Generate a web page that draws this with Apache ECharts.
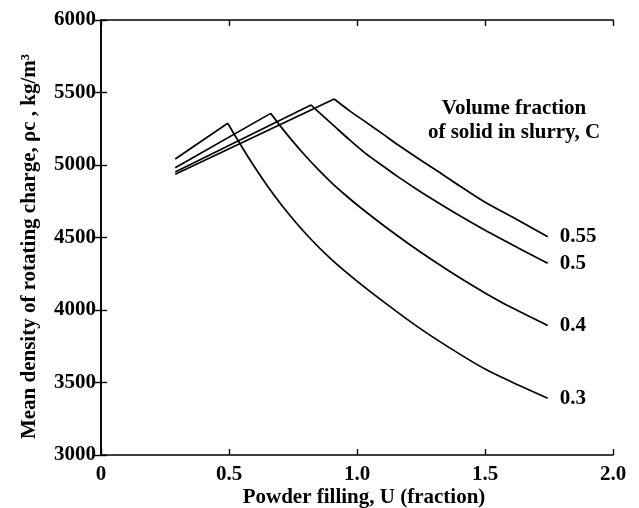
<!DOCTYPE html>
<html>
<head>
<meta charset="utf-8">
<title>Mean density of rotating charge</title>
<script src="https://cdn.jsdelivr.net/npm/echarts@6/dist/echarts.min.js"></script>
<style>
    html, body { margin: 0; padding: 0; background: #fff; }
    #main { width: 639px; height: 508px; }
</style>
</head>
<body>
<div id="main"></div>
<script>
// 体积分数 C
var fractions = ['0.3', '0.4', '0.5', '0.55'];

// 上升段 (U, rho)
var riseU = {
    '0.3': [0.29, 0.495],
    '0.4': [0.29, 0.663],
    '0.5': [0.29, 0.82],
    '0.55': [0.29, 0.911]
};
var riseRho = {
    '0.3': [5041, 5288],
    '0.4': [4981, 5356],
    '0.5': [4952, 5414],
    '0.55': [4936, 5455]
};

// 下降段 (U, rho)
var fallU = {
    '0.3': [0.495, 0.55, 0.6, 0.65, 0.72, 0.81, 0.9, 1.0, 1.12, 1.24, 1.37, 1.5, 1.63, 1.745],
    '0.4': [0.663, 0.7, 0.75, 0.8, 0.85, 0.9, 0.95, 1.0, 1.1, 1.2, 1.3, 1.4, 1.5, 1.6, 1.745],
    '0.5': [0.82, 0.87, 0.92, 0.97, 1.032, 1.1, 1.161, 1.239, 1.317, 1.4, 1.499, 1.628, 1.745],
    '0.55': [0.911, 0.97, 1.032, 1.1, 1.161, 1.239, 1.317, 1.4, 1.499, 1.628, 1.745]
};
var fallRho = {
    '0.3': [5288, 5126, 4986, 4856, 4692, 4507, 4349, 4199, 4035, 3880, 3730, 3593, 3483, 3392],
    '0.4': [5356, 5270, 5161, 5060, 4966, 4879, 4800, 4726, 4588, 4459, 4338, 4224, 4118, 4020, 3893],
    '0.5': [5414, 5334, 5254, 5175, 5082, 4995, 4918, 4826, 4740, 4652, 4552, 4430, 4322],
    '0.55': [5455, 5375, 5299, 5215, 5138, 5045, 4955, 4857, 4745, 4621, 4505]
};

// 刻度
var xTicks = [0, 0.5, 1.0, 1.5, 2.0];
var yTicks = [3000, 3500, 4000, 4500, 5000, 5500, 6000];

var serif = 'Liberation Serif';
var myChart = echarts.init(document.getElementById('main'));

function pairs(us, vs) {
    return us.map(function (u, i) { return [u, vs[i]]; });
}

function buildSeries() {
    var list = [];
    fractions.forEach(function (c) {
        list.push({
            name: c + '-rise',
            type: 'line',
            data: pairs(riseU[c], riseRho[c]),
            showSymbol: false,
            silent: true,
            lineStyle: { color: '#000', width: 1.7 }
        });
        list.push({
            name: c,
            type: 'line',
            data: pairs(fallU[c], fallRho[c]),
            smooth: 0.3,
            showSymbol: false,
            silent: true,
            lineStyle: { color: '#000', width: 1.7 },
            endLabel: {
                show: true,
                formatter: c,
                distance: 12,
                color: '#000',
                fontFamily: serif,
                fontWeight: 'bold',
                fontSize: 21
            }
        });
    });
    return list;
}

var axisLine = { show: true, lineStyle: { color: '#000', width: 1.6 } };
var axisTick = { show: true, inside: true, length: 6, lineStyle: { color: '#000', width: 1.4 } };

var option = {
    animation: false,
    backgroundColor: '#fff',
    grid: { left: 101, right: 26, top: 20, bottom: 53, outerBoundsMode: 'none', containLabel: false },
    xAxis: [{
        type: 'value',
        min: xTicks[0],
        max: xTicks[xTicks.length - 1],
        interval: 0.5,
        position: 'bottom',
        axisLine: axisLine,
        axisTick: axisTick,
        splitLine: { show: false },
        axisLabel: {
            margin: 9,
            color: '#000',
            fontFamily: serif,
            fontWeight: 'bold',
            fontSize: 21,
            formatter: function (v) { return v === 0 ? '0' : v.toFixed(1); }
        },
        name: 'Powder filling, U (fraction)',
        nameLocation: 'middle',
        nameGap: 32,
        nameMoveOverlap: false,
        nameTextStyle: {
            color: '#000', fontFamily: serif, fontWeight: 'bold', fontSize: 21,
            padding: [0, 0, 0, 14]
        }
    }, {
        type: 'value',
        min: xTicks[0],
        max: xTicks[xTicks.length - 1],
        interval: 0.5,
        position: 'top',
        axisLine: axisLine,
        axisTick: axisTick,
        axisLabel: { show: false },
        splitLine: { show: false }
    }],
    yAxis: [{
        type: 'value',
        min: yTicks[0],
        max: yTicks[yTicks.length - 1],
        interval: 500,
        position: 'left',
        axisLine: axisLine,
        axisTick: axisTick,
        splitLine: { show: false },
        axisLabel: {
            margin: 5,
            color: '#000',
            fontFamily: serif,
            fontWeight: 'bold',
            fontSize: 21,
            formatter: function (v) { return String(v); }
        },
        name: 'Mean density of rotating charge, ρc , kg/m³',
        nameLocation: 'middle',
        nameGap: 61,
        nameMoveOverlap: false,
        nameTextStyle: {
            color: '#000', fontFamily: serif, fontWeight: 'bold', fontSize: 21,
            padding: [0, 18, 0, 0]
        }
    }, {
        type: 'value',
        min: yTicks[0],
        max: yTicks[yTicks.length - 1],
        interval: 500,
        position: 'right',
        axisLine: axisLine,
        axisTick: axisTick,
        axisLabel: { show: false },
        splitLine: { show: false }
    }],
    graphic: [{
        type: 'text',
        x: 514,
        y: 97,
        style: {
            text: 'Volume fraction\nof solid in slurry, C',
            align: 'center',
            verticalAlign: 'top',
            fill: '#000',
            font: 'bold 21px "Liberation Serif"',
            lineHeight: 24
        }
    }],
    series: buildSeries()
};

myChart.setOption(option);
</script>
</body>
</html>
